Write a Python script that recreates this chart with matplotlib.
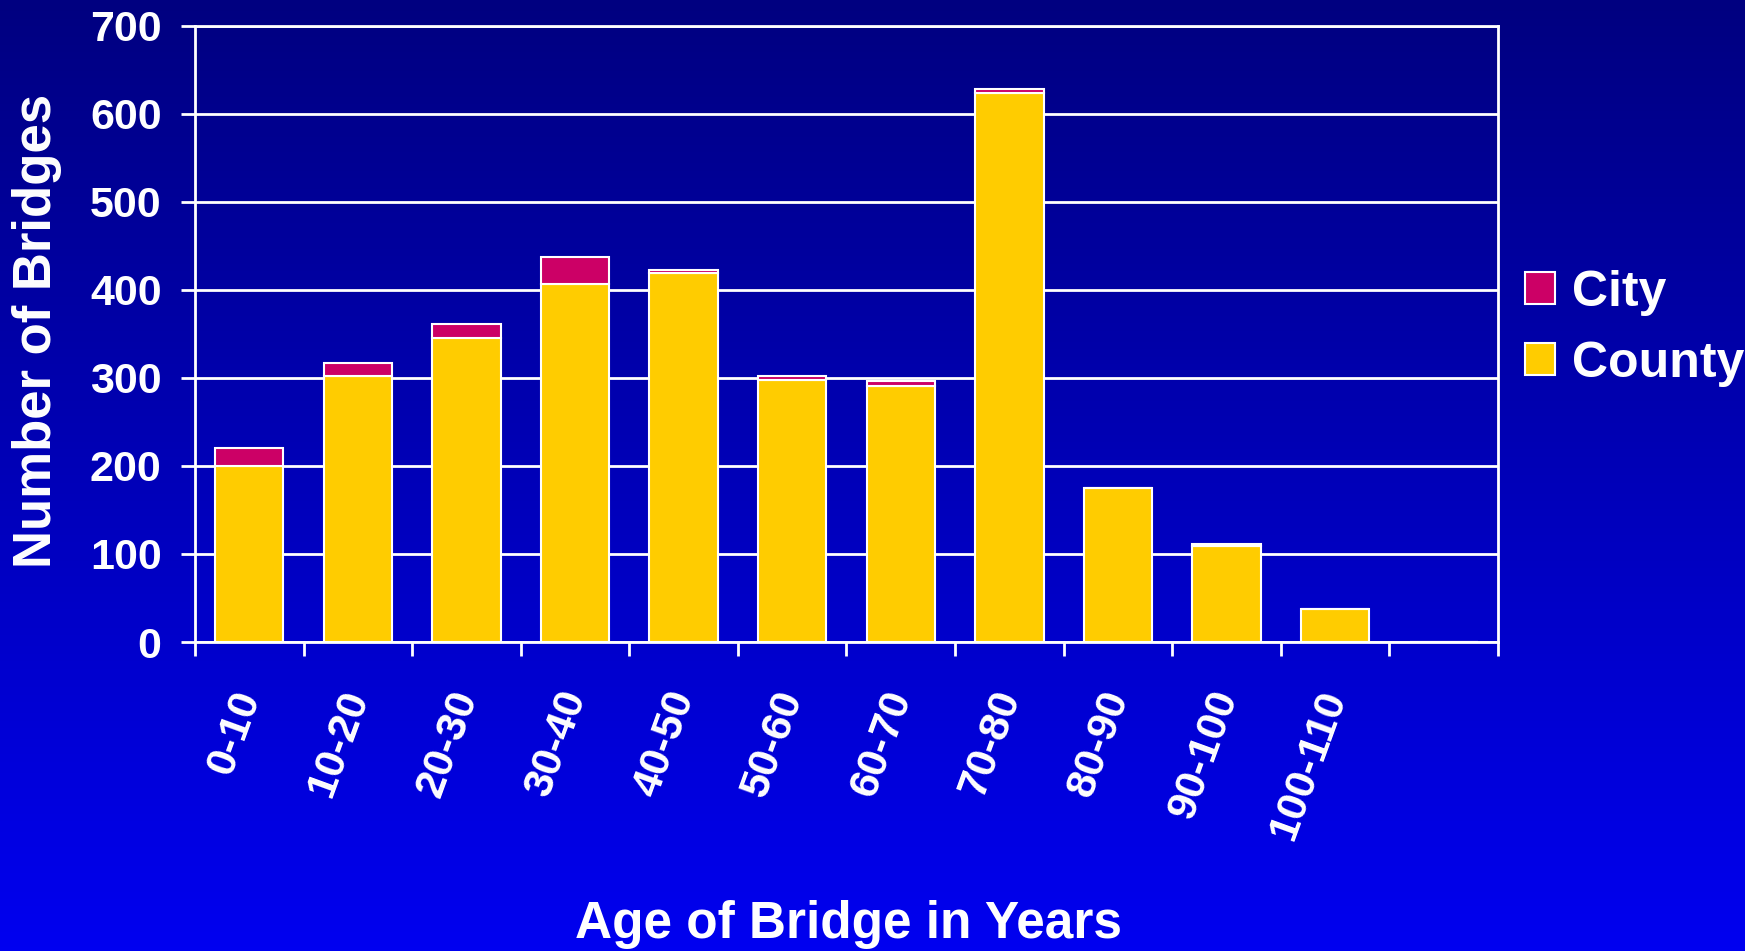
import matplotlib
matplotlib.use('Agg')
import matplotlib.pyplot as plt
from matplotlib.colors import LinearSegmentedColormap
import numpy as np

# data
age_groups = ['0-10', '10-20', '20-30', '30-40', '40-50', '50-60',
              '60-70', '70-80', '80-90', '90-100', '100-110', '']
county = [200, 302, 345, 406, 419, 298, 291, 623, 175, 109, 38, 0]
city = [20, 15, 16, 31, 4, 4, 5, 5, 0, 2, 0, 0]
y_ticks = [0, 100, 200, 300, 400, 500, 600, 700]

COUNTY_COLOR = '#FFCC00'
CITY_COLOR = '#CC0066'
plt.rcParams['font.family'] = ['Liberation Sans', 'DejaVu Sans']
plt.rcParams['font.weight'] = 'bold'

fig = plt.figure(figsize=(17.45, 9.51), dpi=100)

# vertical gradient background, dark navy at top to bright blue at bottom
bg = fig.add_axes([0, 0, 1, 1], zorder=-1)
grad = np.linspace(0, 1, 256).reshape(-1, 1)
cmap = LinearSegmentedColormap.from_list('bg', ['#000080', '#0000F0'])
bg.imshow(grad, aspect='auto', cmap=cmap, extent=[0, 1, 0, 1], origin='upper')
bg.axis('off')

ax = fig.add_axes([0.1117, 0.3249, 0.8585 - 0.1117, 0.9731 - 0.3249])
ax.patch.set_alpha(0)

x = np.arange(len(age_groups))
width = 0.63
ax.bar(x, county, width, color=COUNTY_COLOR, edgecolor='white', linewidth=1.5,
       label='County', zorder=3)
ax.bar(x, city, width, bottom=county, color=CITY_COLOR, edgecolor='white',
       linewidth=1.5, label='City', zorder=3)

ax.set_xlim(-0.5, len(age_groups) - 0.5)
ax.set_ylim(0, 700)
ax.set_yticks(y_ticks)
ax.set_yticklabels([str(v) for v in y_ticks], fontsize=31, color='white')
ax.yaxis.grid(True, color='white', linewidth=2, zorder=1)
ax.set_axisbelow(True)

ax.set_xticks(x)
ax.set_xticklabels(age_groups, fontsize=31, color='white', rotation=70,
                   rotation_mode='anchor', ha='right', va='center')
ax.set_xticks(np.arange(-0.5, len(age_groups), 1), minor=True)
ax.tick_params(axis='x', which='major', length=0, pad=36)
ax.tick_params(axis='x', which='minor', length=10, width=2, color='white',
               direction='out')
ax.tick_params(axis='y', length=10, width=2, color='white', direction='out', pad=14)

for side in ['left', 'right', 'bottom', 'top']:
    ax.spines[side].set_color('white')
    ax.spines[side].set_linewidth(2)

fig.text(0.021, 0.652, 'Number of Bridges', rotation=90, fontsize=38,
         color='white', ha='center', va='center', fontweight='bold')
fig.text(0.486, 0.028, 'Age of Bridge in Years', fontsize=37,
         color='white', ha='center', va='center', fontweight='bold')

handles, labels = ax.get_legend_handles_labels()
leg = fig.legend(handles[::-1], labels[::-1], loc='center left',
                 bbox_to_anchor=(0.848, 0.655), frameon=False, fontsize=36,
                 handlelength=0.6, handleheight=0.6, handletextpad=0.35,
                 labelspacing=0.5)
for t in leg.get_texts():
    t.set_color('white')

fig.savefig('out.png', dpi=100)
